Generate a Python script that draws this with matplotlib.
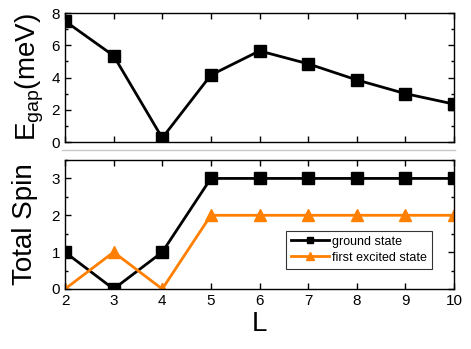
import matplotlib
matplotlib.use("Agg")
import matplotlib.pyplot as plt
from matplotlib.ticker import MultipleLocator

plt.rcParams['font.family'] = ['Liberation Sans', 'DejaVu Sans']
plt.rcParams['mathtext.fontset'] = 'custom'
plt.rcParams['mathtext.rm'] = 'Liberation Sans'
plt.rcParams['mathtext.it'] = 'Liberation Sans'

sizes = [2, 3, 4, 5, 6, 7, 8, 9, 10]
gap_mev = [7.5, 5.35, 0.25, 4.15, 5.65, 4.85, 3.85, 3.0, 2.35]
spin_ground = [1, 0, 1, 3, 3, 3, 3, 3, 3]
spin_excited = [0, 1, 0, 2, 2, 2, 2, 2, 2]

fig = plt.figure(figsize=(4.71, 3.49), dpi=100)
ax1 = fig.add_axes([65 / 471, 1 - 142 / 349, 389 / 471, 129 / 349])
ax2 = fig.add_axes([65 / 471, 1 - 289 / 349, 389 / 471, 129 / 349])

ax1.plot(sizes, gap_mev, color='black', lw=2, marker='s', ms=8)
ax2.plot(sizes, spin_ground, color='black', lw=2, marker='s', ms=8,
         label='ground state')
ax2.plot(sizes, spin_excited, color='#ff8000', lw=2, marker='^', ms=9,
         label='first excited state')

for ax in (ax1, ax2):
    ax.set_xlim(2, 10)
    ax.xaxis.set_major_locator(MultipleLocator(1))
    ax.tick_params(direction='in', top=True, right=True, labelsize=11,
                   width=1, length=4)
    ax.tick_params(which='minor', direction='in', right=True, width=1, length=2.5)
    for s in ax.spines.values():
        s.set_linewidth(1)

ax1.set_ylim(0, 8)
ax1.yaxis.set_major_locator(MultipleLocator(2))
ax1.yaxis.set_minor_locator(MultipleLocator(1))
ax1.tick_params(labelbottom=False)
ax1.set_ylabel(r'E$_{\rm gap}$(meV)', fontsize=20, labelpad=4)

ax2.set_ylim(0, 3.5)
ax2.yaxis.set_major_locator(MultipleLocator(1))
ax2.yaxis.set_minor_locator(MultipleLocator(0.5))
ax2.set_ylabel('Total Spin', fontsize=20, labelpad=10)
ax2.set_xlabel('L', fontsize=20, labelpad=2)

leg = ax2.legend(loc='lower right', bbox_to_anchor=(0.96, 0.11), fontsize=9,
                 frameon=True, fancybox=False, edgecolor='black',
                 handlelength=3, markerscale=0.6, borderpad=0.4,
                 labelspacing=0.3, handletextpad=0.3)
leg.get_frame().set_linewidth(0.8)

fig.add_artist(plt.Line2D([62 / 471, 455 / 471], [1 - 150 / 349, 1 - 150 / 349],
                          color='#c8c8c8', lw=1))

fig.savefig('out.png', dpi=100)
